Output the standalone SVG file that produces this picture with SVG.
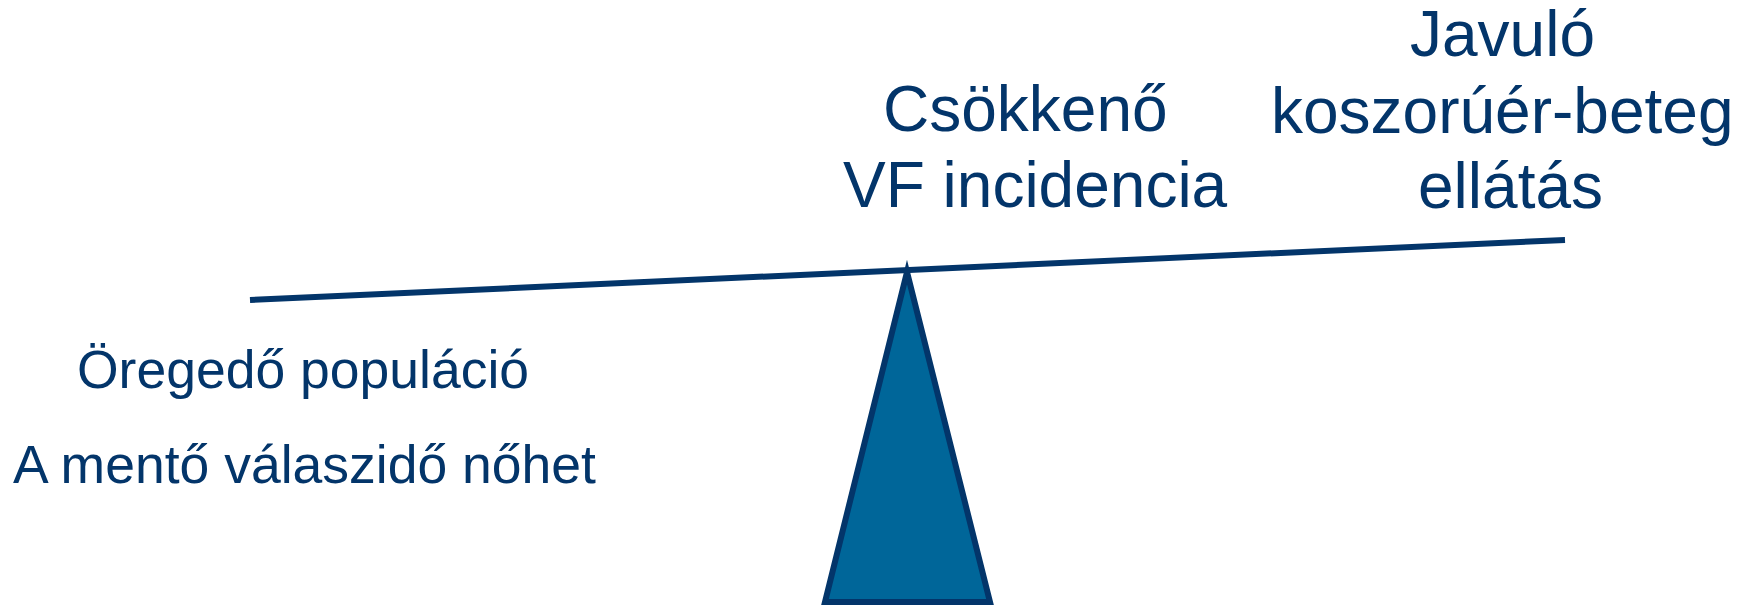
<svg xmlns="http://www.w3.org/2000/svg" width="1748" height="607" viewBox="0 0 1748 607">
  <style>
    .lbl { font-family: "Liberation Sans", Arial, sans-serif; fill: #03356A; }
    .big { font-size: 64px; }
    .small { font-size: 53.5px; }
    .beam { stroke: #03356A; stroke-width: 6; fill: none; }
    .fulcrum { fill: #006699; stroke: #03356A; stroke-width: 6; stroke-miterlimit: 10; }
  </style>
  <rect width="1748" height="607" fill="#ffffff"/>

  <!-- balance: fulcrum and tilted beam -->
  <g id="fulcrum">
    <polygon class="fulcrum" points="907,272 990,602 825,602"/>
  </g>
  <g id="connectors">
    <line class="beam" x1="250" y1="300" x2="1565" y2="240"/>
  </g>

  <g id="label-center">
    <text class="lbl big" x="883" y="131">Csökkenő</text>
    <text class="lbl big" x="843" y="207">VF incidencia</text>
  </g>

  <g id="label-right">
    <text class="lbl big" x="1410" y="56">Javuló</text>
    <text class="lbl big" x="1271" y="133">koszorúér-beteg</text>
    <text class="lbl big" x="1418" y="208">ellátás</text>
  </g>

  <g id="label-left">
    <text class="lbl small" x="77" y="388">Öregedő populáció</text>
    <text class="lbl small" x="13" y="483">A mentő válaszidő nőhet</text>
  </g>
</svg>
